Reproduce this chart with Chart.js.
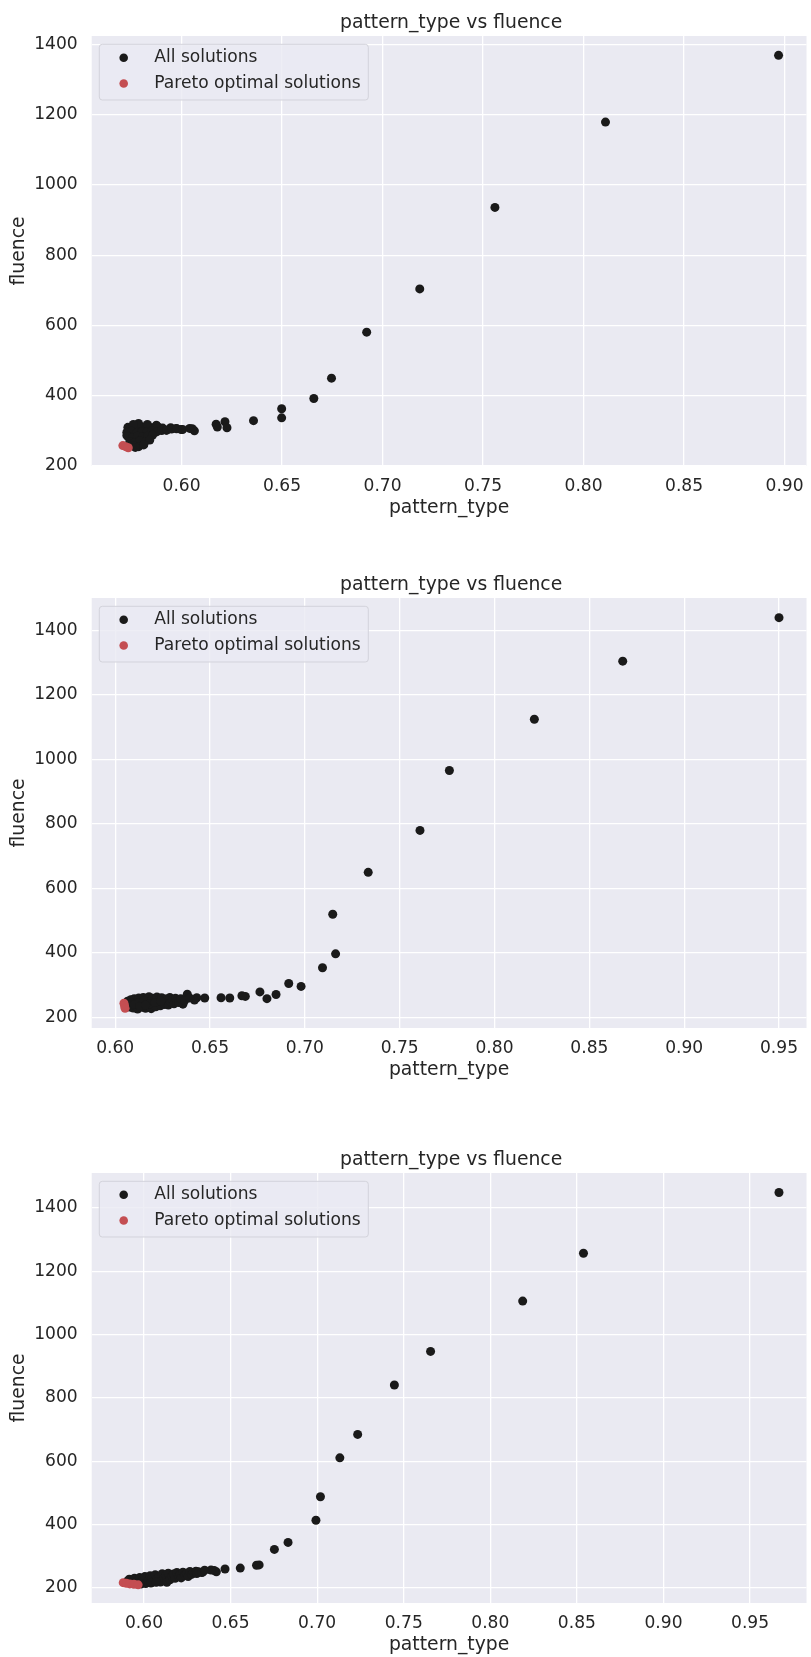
<!DOCTYPE html>
<html>
<head>
<meta charset="utf-8">
<script src="https://cdn.jsdelivr.net/npm/chart.js@4.4.0/dist/chart.umd.min.js"></script>
<style>
  body { margin: 0; background: #ffffff; }
  #page { position: relative; width: 811px; height: 1657px; }
  .panel { position: absolute; left: 0; width: 811px; height: 520px; }
</style>
</head>
<body>
<div id="page">
  <div class="panel" style="top:0px"><canvas id="chart1" width="811" height="520"></canvas></div>
  <div class="panel" style="top:562px"><canvas id="chart2" width="811" height="520"></canvas></div>
  <div class="panel" style="top:1137px"><canvas id="chart3" width="811" height="520"></canvas></div>
</div>
<script>
// values, [pattern_type, fluence]
const allSolutions1 = [
  [0.8970, 1369], [0.8109, 1179], [0.7559, 936], [0.7185, 704], [0.6921, 581],
  [0.6746, 450], [0.6658, 392], [0.6498, 363], [0.6498, 337], [0.6358, 329],
  [0.6216, 326], [0.6226, 309], [0.6172, 319], [0.6178, 311], [0.6064, 300],
  [0.6053, 306], [0.5998, 304], [0.5974, 307], [0.5946, 309], [0.5924, 302],
  [0.5891, 307],
  [0.5733, 310], [0.5757, 313], [0.5782, 316], [0.5807, 311], [0.5832, 314],
  [0.5856, 309], [0.5881, 312], [0.5906, 308], [0.5786, 321], [0.5830, 318],
  [0.5760, 318], [0.5875, 316],
  [0.5728, 296], [0.5752, 299], [0.5777, 294], [0.5802, 298], [0.5827, 296],
  [0.5851, 300], [0.5876, 297], [0.5901, 301], [0.5926, 302], [0.5950, 305],
  [0.5975, 306], [0.6005, 304], [0.6040, 307],
  [0.5728, 287], [0.5733, 284], [0.5757, 281], [0.5782, 285], [0.5807, 282],
  [0.5832, 286], [0.5856, 288],
  [0.5743, 270], [0.5767, 267], [0.5792, 272], [0.5817, 268], [0.5842, 274],
  [0.5762, 258], [0.5787, 255], [0.5812, 260], [0.5770, 253]
];
const pareto1 = [[0.5708, 258], [0.5722, 255], [0.5735, 252]];

const allSolutions2 = [
  [0.9500, 1440], [0.8676, 1305], [0.8210, 1125], [0.7762, 966], [0.7607, 780],
  [0.7334, 650], [0.7147, 520], [0.7162, 397], [0.7093, 354], [0.6980, 296],
  [0.6915, 305], [0.6848, 271], [0.6800, 258], [0.6763, 279], [0.6686, 265],
  [0.6668, 267], [0.6604, 260], [0.6558, 261], [0.6472, 260], [0.6430, 261],
  [0.6418, 254], [0.6380, 272], [0.6357, 241],
  [0.6065, 250], [0.6068, 238], [0.6075, 232], [0.6082, 255], [0.6088, 244],
  [0.6095, 229], [0.6100, 258], [0.6106, 236], [0.6112, 248], [0.6118, 226],
  [0.6124, 260], [0.6130, 241], [0.6136, 253], [0.6142, 231], [0.6148, 262],
  [0.6154, 244], [0.6160, 228], [0.6166, 256], [0.6172, 237], [0.6178, 264],
  [0.6184, 249], [0.6190, 227], [0.6196, 259], [0.6202, 240], [0.6208, 252],
  [0.6214, 233], [0.6220, 263], [0.6226, 245], [0.6232, 256], [0.6238, 236],
  [0.6245, 261], [0.6252, 248], [0.6258, 240], [0.6265, 257], [0.6272, 250],
  [0.6280, 238], [0.6288, 262], [0.6295, 246], [0.6302, 255], [0.6310, 242],
  [0.6318, 259], [0.6326, 250], [0.6335, 246], [0.6345, 258], [0.6366, 252],
  [0.6392, 260], [0.6120, 246], [0.6150, 252], [0.6180, 242], [0.6210, 246],
  [0.6240, 250], [0.6100, 240], [0.6130, 234], [0.6160, 238]
];
const pareto2 = [[0.6046, 244], [0.6049, 236], [0.6052, 228]];

const allSolutions3 = [
  [0.9667, 1449], [0.8538, 1257], [0.8187, 1106], [0.7655, 947], [0.7446, 841],
  [0.7234, 685], [0.7131, 611], [0.7019, 488], [0.6993, 414], [0.6832, 344],
  [0.6753, 322], [0.6665, 273], [0.6650, 272], [0.6556, 263], [0.6468, 260],
  [0.6418, 251], [0.6406, 255], [0.6387, 257], [0.6339, 250], [0.6291, 248],
  [0.5905, 222], [0.5915, 228], [0.5925, 219], [0.5935, 226], [0.5945, 231],
  [0.5955, 218], [0.5965, 224], [0.5975, 233], [0.5985, 220], [0.5995, 228],
  [0.6005, 236], [0.6015, 217], [0.6025, 225], [0.6035, 239], [0.6045, 231],
  [0.6055, 220], [0.6065, 242], [0.6075, 228], [0.6085, 236], [0.6095, 219],
  [0.6105, 245], [0.6115, 232], [0.6125, 240], [0.6132, 218], [0.6140, 247],
  [0.6150, 226], [0.6160, 238], [0.6170, 244], [0.6180, 231], [0.6190, 249],
  [0.6200, 237], [0.6210, 243], [0.6215, 232], [0.6225, 250], [0.6235, 240],
  [0.6245, 246], [0.6255, 236], [0.6265, 252], [0.6275, 243], [0.6285, 249],
  [0.6300, 253], [0.6305, 246], [0.6315, 251], [0.6333, 249], [0.6350, 256],
  [0.5985, 213], [0.6010, 214], [0.6040, 216], [0.6070, 218]
];
const pareto3 = [[0.5880, 217], [0.5898, 215], [0.5918, 213], [0.5942, 212], [0.5966, 210]];

const seriesLabels = ['All solutions', 'Pareto optimal solutions'];
const seriesColors = ['#1a1a1a', '#c44e52'];
const xTicksShort = [0.60, 0.65, 0.70, 0.75, 0.80, 0.85, 0.90];
const xTicksLong = [0.60, 0.65, 0.70, 0.75, 0.80, 0.85, 0.90, 0.95];
const yTicks = [200, 400, 600, 800, 1000, 1200, 1400];
const chartTitle = 'pattern_type vs fluence';
const xLabel = 'pattern_type';
const yLabel = 'fluence';

const textColor = '#262626';
const fontFamily = "'DejaVu Sans', sans-serif";
Chart.defaults.font.family = fontFamily;
Chart.defaults.color = textColor;

// grey panel behind the grid, like seaborn darkgrid
const plotBackground = {
  id: 'plotBackground',
  beforeDraw(chart) {
    const { ctx, chartArea: a } = chart;
    ctx.save();
    ctx.fillStyle = '#eaeaf2';
    ctx.fillRect(a.left, a.top, a.right - a.left, a.bottom - a.top);
    ctx.restore();
  }
};

// title centred over the plot area (the built-in one centres over the canvas)
const axesTitle = {
  id: 'axesTitle',
  afterDraw(chart) {
    const { ctx, chartArea: a } = chart;
    ctx.save();
    ctx.font = '18.8px ' + fontFamily;
    ctx.fillStyle = textColor;
    ctx.textAlign = 'center';
    ctx.textBaseline = 'alphabetic';
    ctx.fillText(chartTitle, (a.left + a.right) / 2 + 2, a.top - 8.5);
    ctx.restore();
  }
};

// legend box in the upper left corner of the plot
const insideLegend = {
  id: 'insideLegend',
  afterDatasetsDraw(chart) {
    const { ctx, chartArea: a } = chart;
    const x = a.left + 7.6, y = a.top + 8.3;
    ctx.save();
    ctx.beginPath();
    ctx.roundRect(x, y, 269, 55.7, 3);
    ctx.fillStyle = 'rgba(234,234,242,0.8)';
    ctx.fill();
    ctx.strokeStyle = '#d3d3db';
    ctx.lineWidth = 1;
    ctx.stroke();
    ctx.font = '17.1px ' + fontFamily;
    ctx.textBaseline = 'middle';
    chart.data.datasets.forEach((ds, i) => {
      const rowY = a.top + 21.7 + i * 25.8;
      ctx.beginPath();
      ctx.arc(a.left + 32, rowY, 4.3, 0, Math.PI * 2);
      ctx.fillStyle = ds.backgroundColor;
      ctx.fill();
      ctx.fillStyle = textColor;
      ctx.fillText(ds.label, a.left + 62.6, rowY);
    });
    ctx.restore();
  }
};

function makePanel(id, allPts, paretoPts, xRange, yRange, xTicks) {
  const ctx = document.getElementById(id).getContext('2d');
  return new Chart(ctx, {
    type: 'scatter',
    data: {
      datasets: [
        {
          label: seriesLabels[0],
          data: allPts.map(p => ({ x: p[0], y: p[1] })),
          backgroundColor: seriesColors[0],
          borderColor: seriesColors[0],
          pointRadius: 4.5,
          pointBorderWidth: 0,
          order: 1
        },
        {
          label: seriesLabels[1],
          data: paretoPts.map(p => ({ x: p[0], y: p[1] })),
          backgroundColor: seriesColors[1],
          borderColor: seriesColors[1],
          pointRadius: 4.5,
          pointBorderWidth: 0,
          order: 0
        }
      ]
    },
    options: {
      responsive: false,
      animation: false,
      layout: { padding: { left: 0, right: 1, top: 36, bottom: 0 } },
      plugins: {
        legend: { display: false },
        tooltip: { enabled: false },
        title: { display: false }
      },
      scales: {
        x: {
          type: 'linear',
          min: xRange[0],
          max: xRange[1],
          afterBuildTicks: s => { s.ticks = xTicks.map(v => ({ value: v })); },
          afterFit: s => { s.height = 54; s.paddingLeft = 0; s.paddingRight = 0; },
          ticks: {
            padding: 10.6,
            color: textColor,
            font: { size: 17.1 },
            callback: v => v.toFixed(2)
          },
          grid: { color: '#ffffff', lineWidth: 1.3, drawTicks: false },
          border: { display: false },
          title: {
            display: true,
            text: xLabel,
            color: textColor,
            font: { size: 18.8 },
            padding: { top: 0, bottom: 1 }
          }
        },
        y: {
          type: 'linear',
          min: yRange[0],
          max: yRange[1],
          afterBuildTicks: s => { s.ticks = yTicks.map(v => ({ value: v })); },
          afterFit: s => { s.width = 91.7; s.paddingTop = 0; s.paddingBottom = 0; },
          ticks: {
            padding: 14,
            color: textColor,
            font: { size: 17.1 },
            callback: v => String(v)
          },
          grid: { color: '#ffffff', lineWidth: 1.3, drawTicks: false },
          border: { display: false },
          title: {
            display: true,
            text: yLabel,
            color: textColor,
            font: { size: 18.8 },
            padding: { top: 7.7, bottom: 0 }
          }
        }
      }
    },
    plugins: [plotBackground, insideLegend, axesTitle]
  });
}

makePanel('chart1', allSolutions1, pareto1, [0.5553, 0.9109], [200, 1424], xTicksShort);
makePanel('chart2', allSolutions2, pareto2, [0.5876, 0.9645], [167, 1501], xTicksLong);
makePanel('chart3', allSolutions3, pareto3, [0.5698, 0.9826], [152.7, 1510.4], xTicksLong);
</script>
</body>
</html>
